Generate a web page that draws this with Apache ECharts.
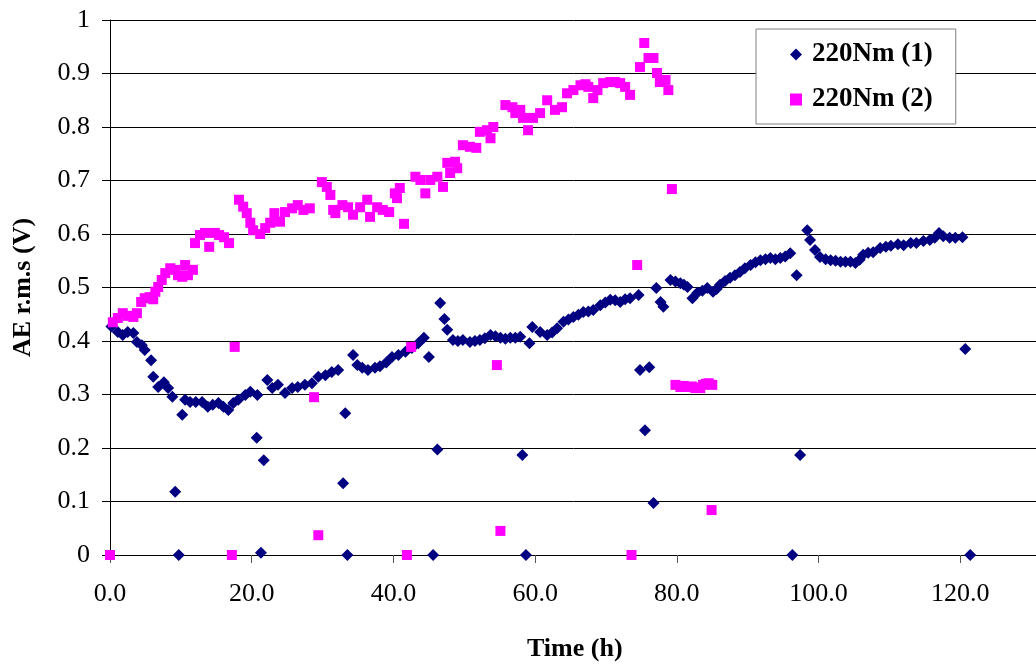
<!DOCTYPE html>
<html>
<head>
<meta charset="utf-8">
<script src="https://cdn.jsdelivr.net/npm/echarts@6/dist/echarts.min.js"></script>
<style>
  html, body { margin: 0; padding: 0; background: #fff; }
  #chart { width: 1036px; height: 666px; }
</style>
</head>
<body>
<div id="chart"></div>
<script>
// AE r.m.s readings over time, [hours, volts]
const seriesNames = ['220Nm (1)', '220Nm (2)'];

const run1 = [
  [0.2,0.427],[1.1,0.417],[1.8,0.411],[2.5,0.417],[3.3,0.415],[3.8,0.398],[4.5,0.392],[4.9,0.383],
  [5.8,0.364],[6.1,0.333],[6.8,0.314],[7.6,0.323],[8.2,0.312],[8.8,0.296],[9.2,0.118],[9.7,0],
  [10.2,0.262],[10.6,0.290],[11.3,0.286],[12.1,0.286],[13.0,0.286],[13.8,0.277],[14.5,0.281],
  [15.3,0.284],[16.0,0.277],[16.7,0.271],[17.4,0.284],[18.1,0.290],[19.1,0.299],[19.8,0.305],
  [20.7,0.219],[20.8,0.299],[21.3,0.004],[21.7,0.177],[22.2,0.327],[22.9,0.312],[23.7,0.318],
  [24.7,0.303],[25.7,0.312],[26.5,0.314],[27.5,0.318],[28.5,0.321],[29.4,0.333],[30.4,0.336],
  [31.3,0.342],[32.2,0.346],[32.9,0.134],[33.2,0.265],[33.5,0],[34.3,0.374],[34.9,0.355],
  [35.6,0.350],[36.4,0.346],[37.4,0.350],[38.1,0.353],[39.0,0.360],[39.8,0.370],[40.7,0.374],
  [41.7,0.380],[42.6,0.387],[43.5,0.396],[44.3,0.406],[45.0,0.370],[45.6,0],[46.2,0.197],
  [46.6,0.471],[47.2,0.441],[47.6,0.421],[48.4,0.402],[49.1,0.400],[49.8,0.402],[50.8,0.398],
  [51.5,0.400],[52.2,0.402],[52.9,0.405],[53.7,0.411],[54.4,0.409],[55.1,0.406],[55.8,0.404],
  [56.5,0.406],[57.2,0.406],[57.9,0.408],[58.2,0.187],[58.7,0],[59.2,0.396],
  [59.6,0.426],[60.7,0.417],[61.7,0.411],[62.4,0.416],[63.1,0.424],[64.0,0.436],[64.7,0.440],
  [65.4,0.445],[66.1,0.449],[66.8,0.454],[67.5,0.455],[68.2,0.458],[69.2,0.467],[69.9,0.472],
  [70.6,0.477],[71.3,0.476],[72.0,0.473],[72.7,0.478],[73.4,0.480],[74.6,0.486],[74.8,0.346],
  [75.5,0.233],[76.1,0.351],[76.7,0.097],[77.1,0.499],[77.7,0.473],[78.1,0.464],[79.1,0.514],
  [79.8,0.511],[80.5,0.508],[81.0,0.505],[81.5,0.501],[82.2,0.480],[82.9,0.490],[83.6,0.494],
  [84.3,0.499],[85.1,0.492],[85.6,0.497],[86.1,0.505],[86.8,0.512],[87.5,0.518],[88.2,0.523],
  [88.9,0.529],[89.6,0.536],[90.4,0.542],[91.1,0.547],[91.8,0.551],[92.5,0.553],[93.2,0.555],
  [93.9,0.553],[94.6,0.555],[95.3,0.558],[96.0,0.564],
  [96.3,0],[96.9,0.523],[97.4,0.187],[98.4,0.607],[98.8,0.589],[99.5,0.570],[100.2,0.557],
  [101.0,0.553],[101.7,0.551],[102.4,0.550],[103.1,0.548],[103.8,0.548],[104.5,0.548],
  [105.2,0.546],[105.8,0.552],[106.3,0.561],[107.0,0.565],[107.7,0.566],
  [108.7,0.574],[109.5,0.576],[110.2,0.578],[111.2,0.581],[112.0,0.579],[113.0,0.583],[113.8,0.583],
  [114.8,0.587],[115.7,0.589],[116.4,0.593],[117.0,0.602],[117.6,0.596],[118.5,0.593],
  [119.3,0.593],[120.3,0.594],[120.7,0.385],[121.4,0]
];

const run2 = [
  [0.0,0],[0.4,0.435],[1.1,0.443],[1.8,0.452],[2.5,0.447],[3.3,0.445],[3.8,0.452],[4.4,0.473],
  [4.9,0.480],[5.6,0.482],[6.1,0.478],[6.4,0.492],[6.8,0.501],[7.3,0.514],[7.8,0.527],[8.5,0.536],
  [9.2,0.533],[9.6,0.523],[10.2,0.520],[10.6,0.542],[11.0,0.523],[11.7,0.533],[12.0,0.583],
  [12.7,0.598],[13.4,0.602],[14.0,0.576],[14.8,0.602],[15.4,0.598],[16.1,0.594],[16.8,0.583],
  [17.2,0],[17.6,0.389],[18.2,0.664],[18.8,0.651],[19.3,0.639],[19.8,0.621],[20.2,0.607],
  [21.2,0.600],[21.9,0.611],[22.6,0.621],[23.2,0.639],[24.0,0.623],[24.7,0.641],[25.7,0.648],
  [26.5,0.654],[27.3,0.645],[28.2,0.648],[28.8,0.295],[29.4,0.037],[29.9,0.697],[30.6,0.688],
  [31.1,0.673],[31.5,0.645],[31.8,0.639],[32.8,0.654],[33.6,0.650],[34.3,0.636],[35.3,0.650],
  [36.3,0.664],[36.7,0.632],[37.7,0.650],[38.5,0.645],[39.4,0.641],[40.2,0.676],[40.5,0.667],
  [40.9,0.686],[41.5,0.619],[41.9,0],[42.5,0.389],[43.1,0.707],[43.8,0.701],[44.5,0.676],
  [45.2,0.701],[46.2,0.707],[47.0,0.688],[47.6,0.733],[48.0,0.714],[48.7,0.735],[49.0,0.723],
  [49.8,0.766],[50.8,0.763],[51.7,0.761],[52.2,0.791],[53.2,0.794],[53.7,0.779],[54.1,0.800],
  [54.6,0.355],[55.1,0.045],[55.8,0.841],[56.8,0.837],[57.2,0.826],[57.9,0.832],[58.3,0.817],
  [59.0,0.794],[59.7,0.817],[60.7,0.826],[61.7,0.850],[62.8,0.832],[63.8,0.837],[64.5,0.863],
  [65.4,0.869],[66.4,0.878],[67.1,0.880],[67.5,0.875],[68.2,0.854],[68.8,0.869],[69.6,0.882],
  [70.6,0.884],[71.3,0.884],[72.0,0.882],[72.7,0.875],[73.4,0.860],[73.6,0],[74.4,0.542],
  [74.8,0.912],[75.4,0.957],[76.0,0.929],[76.7,0.929],[77.2,0.901],[77.6,0.884],[78.4,0.888],
  [78.8,0.869],[79.3,0.684],[79.8,0.318],[80.5,0.314],[81.0,0.316],[81.6,0.314],[82.1,0.315],
  [82.6,0.312],[83.0,0.313],[83.3,0.312],[83.7,0.318],[84.1,0.320],[84.5,0.321],[84.9,0.084],
  [85.0,0.318]
];

const xTicks = { min: 0, max: 140, interval: 20 };
const yTicks = { min: 0, max: 1, interval: 0.1 };

const FONT = 'Liberation Serif';

const chart = echarts.init(document.getElementById('chart'), null, { renderer: 'canvas' });

chart.setOption({
  animation: false,
  backgroundColor: '#ffffff',
  // the plot area runs past the right edge of the canvas
  grid: { left: 110, top: 20, bottom: 111, right: -66, containLabel: false, outerBoundsMode: 'none' },
  xAxis: {
    type: 'value',
    min: xTicks.min, max: xTicks.max, interval: xTicks.interval,
    axisLine: { onZero: false, lineStyle: { color: '#000', width: 1 } },
    axisTick: { show: true, inside: false, length: 8, lineStyle: { color: '#555' } },
    axisLabel: {
      margin: 26,
      fontFamily: FONT, fontSize: 26, color: '#000',
      formatter: v => v.toFixed(1)
    },
    splitLine: { show: false }
  },
  yAxis: {
    type: 'value',
    min: yTicks.min, max: yTicks.max, interval: yTicks.interval,
    name: 'AE r.m.s (V)',
    nameLocation: 'middle',
    nameGap: 74,
    nameTextStyle: { fontFamily: FONT, fontSize: 26, fontWeight: 'bold', color: '#000' },
    axisLine: { show: true, lineStyle: { color: '#000', width: 1 } },
    axisTick: { show: true, inside: false, length: 8, lineStyle: { color: '#000' } },
    axisLabel: { margin: 20, fontFamily: FONT, fontSize: 26, color: '#000' },
    splitLine: { show: true, lineStyle: { color: '#000', width: 1 } }
  },
  legend: {
    orient: 'vertical',
    left: 756, top: 29,
    padding: [12, 23, 11, 34],
    itemGap: 18,
    itemWidth: 12, itemHeight: 12,
    backgroundColor: '#ffffff',
    borderColor: '#808080', borderWidth: 1,
    textStyle: { fontFamily: FONT, fontSize: 27, fontWeight: 'bold', color: '#000', padding: [0, 0, 0, 5] },
    data: [
      { name: seriesNames[0], icon: 'diamond' },
      { name: seriesNames[1], icon: 'rect' }
    ]
  },
  graphic: [{
    type: 'text',
    left: 527, top: 636,
    style: { text: 'Time (h)', font: 'bold 26px "Liberation Serif"', fill: '#000' }
  }],
  series: [
    {
      name: seriesNames[0],
      type: 'scatter',
      symbol: 'diamond',
      symbolSize: 12,
      itemStyle: { color: '#000080', opacity: 1 },
      data: run1
    },
    {
      name: seriesNames[1],
      type: 'scatter',
      symbol: 'rect',
      symbolSize: 10,
      itemStyle: { color: '#FF00FF', opacity: 1 },
      data: run2
    }
  ]
});
</script>
</body>
</html>
